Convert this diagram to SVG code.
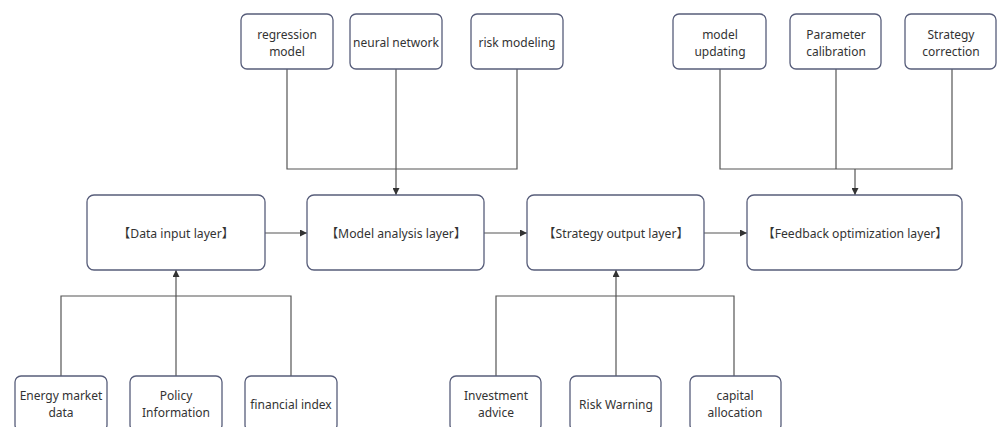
<svg xmlns="http://www.w3.org/2000/svg" width="1000" height="427" viewBox="0 0 1000 427">
<style>
.box{fill:#fff;stroke:#575d7a;stroke-width:1.3}
.t{font-family:"Noto Sans","Noto Sans CJK SC",sans-serif;font-size:12px;fill:#333;text-anchor:middle;dominant-baseline:central}
.tl{font-size:12.2px}
.c{fill:none;stroke:#555;stroke-width:1.2}
</style>
<defs>
<marker id="ah" viewBox="0 0 10 10" refX="10" refY="5" markerWidth="7" markerHeight="7" markerUnits="userSpaceOnUse" orient="auto">
<path d="M0,0 L10,5 L0,10 z" fill="#333"/>
</marker>
</defs>
<rect width="1000" height="427" fill="#fff"/>
<g id="connectors">
<path class="c" d="M287,69 V169 H517 V69"/>
<path class="c" d="M396,69 V195" marker-end="url(#ah)"/>
<path class="c" d="M720,69 V169 H952 V69"/>
<path class="c" d="M836,69 V169"/>
<path class="c" d="M855,169 V195" marker-end="url(#ah)"/>
<path class="c" d="M265,233 H307" marker-end="url(#ah)"/>
<path class="c" d="M484,233 H527" marker-end="url(#ah)"/>
<path class="c" d="M704,233 H747" marker-end="url(#ah)"/>
<path class="c" d="M61,376 V296 H291 V376"/>
<path class="c" d="M176,376 V270" marker-end="url(#ah)"/>
<path class="c" d="M496,376 V296 H734 V376"/>
<path class="c" d="M616,376 V270" marker-end="url(#ah)"/>
</g>
<g id="regression-model"><rect class="box" x="241" y="14" width="92" height="55" rx="6"/><text class="t" x="287" y="34">regression</text><text class="t" x="287" y="51">model</text></g>
<g id="neural-network"><rect class="box" x="350" y="14" width="92" height="55" rx="6"/><text class="t" x="396" y="42">neural network</text></g>
<g id="risk-modeling"><rect class="box" x="471" y="14" width="92" height="55" rx="6"/><text class="t" x="517" y="42">risk modeling</text></g>
<g id="model-updating"><rect class="box" x="673" y="14" width="93" height="55" rx="6"/><text class="t" x="720" y="34">model</text><text class="t" x="720" y="51">updating</text></g>
<g id="parameter-calibration"><rect class="box" x="790" y="14" width="91" height="55" rx="6"/><text class="t" x="836" y="34">Parameter</text><text class="t" x="836" y="51">calibration</text></g>
<g id="strategy-correction"><rect class="box" x="905" y="14" width="91" height="55" rx="6"/><text class="t" x="951" y="34">Strategy</text><text class="t" x="951" y="51">correction</text></g>
<g id="data-input-layer"><rect class="box" x="87" y="195" width="178" height="75" rx="7"/><text class="t tl" x="176" y="233">【Data input layer】</text></g>
<g id="model-analysis-layer"><rect class="box" x="307" y="195" width="177" height="75" rx="7"/><text class="t tl" x="396" y="233">【Model analysis layer】</text></g>
<g id="strategy-output-layer"><rect class="box" x="527" y="195" width="177" height="75" rx="7"/><text class="t tl" x="616" y="233">【Strategy output layer】</text></g>
<g id="feedback-optimization-layer"><rect class="box" x="747" y="195" width="215" height="75" rx="7"/><text class="t tl" x="855" y="233">【Feedback optimization layer】</text></g>
<g id="energy-market-data"><rect class="box" x="15" y="376" width="92" height="55" rx="6"/><text class="t" x="61" y="395">Energy market</text><text class="t" x="61" y="412">data</text></g>
<g id="policy-information"><rect class="box" x="130" y="376" width="92" height="55" rx="6"/><text class="t" x="176" y="395">Policy</text><text class="t" x="176" y="412">Information</text></g>
<g id="financial-index"><rect class="box" x="245" y="376" width="92" height="55" rx="6"/><text class="t" x="291" y="404">financial index</text></g>
<g id="investment-advice"><rect class="box" x="450" y="376" width="91" height="55" rx="6"/><text class="t" x="496" y="395">Investment</text><text class="t" x="496" y="412">advice</text></g>
<g id="risk-warning"><rect class="box" x="570" y="376" width="91" height="55" rx="6"/><text class="t" x="616" y="404">Risk Warning</text></g>
<g id="capital-allocation"><rect class="box" x="690" y="376" width="91" height="55" rx="6"/><text class="t" x="735" y="395">capital</text><text class="t" x="735" y="412">allocation</text></g>
</svg>
